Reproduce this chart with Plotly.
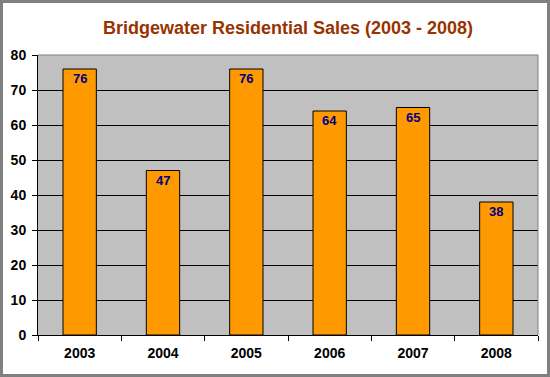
import plotly.graph_objects as go

years = ["2003", "2004", "2005", "2006", "2007", "2008"]
sales = [76, 47, 76, 64, 65, 38]
y_ticks = [0, 10, 20, 30, 40, 50, 60, 70, 80]

W, H = 550, 377
ml, mr, mt, mb = 38, 12, 55, 42
pw = W - ml - mr
ph = H - mt - mb

fig = go.Figure(go.Bar(
    x=years, y=sales,
    marker=dict(color="#FF9900", line=dict(color="black", width=1)),
    width=0.4,
    hoverinfo="x+y",
))

# category axis: annotation x given as category index
for i, v in enumerate(sales):
    fig.add_annotation(x=i, y=v, text=str(v), showarrow=False,
                       xref="x", yref="y", yanchor="top", yshift=0,
                       font=dict(family="Liberation Sans, Arial", size=13,
                                 color="#000080", weight="bold"))

fig.update_layout(
    width=W, height=H,
    margin=dict(l=ml, r=mr, t=mt, b=mb),
    paper_bgcolor="white", plot_bgcolor="#C0C0C0",
    showlegend=False,
    title=dict(text="Bridgewater Residential Sales (2003 - 2008)",
               x=0.5, xref="paper", y=1 - 28 / H, yanchor="middle",
               font=dict(family="Liberation Sans, Arial", size=18, color="#993300", weight="bold")),
    xaxis=dict(type="category", showline=True, linecolor="black", linewidth=1,
               ticks="outside", ticklen=5, tickcolor="black", tickson="boundaries",
               ticklabelstandoff=5,
               tickfont=dict(family="Liberation Sans, Arial", size=14, color="black", weight="bold"),
               showgrid=False, range=[-0.5, 5.5]),
    yaxis=dict(range=[0, 80], tickvals=y_ticks, showline=True, linecolor="black", linewidth=1,
               ticks="outside", ticklen=5, tickcolor="black", ticklabelstandoff=3,
               gridcolor="black", gridwidth=1, zeroline=False,
               tickfont=dict(family="Liberation Sans, Arial", size=14, color="black", weight="bold")),
    shapes=[
        dict(type="line", xref="paper", yref="paper", x0=0, x1=1, y0=1, y1=1,
             line=dict(color="#808080", width=1), layer="above"),
        dict(type="line", xref="paper", yref="paper", x0=1, x1=1, y0=0, y1=1,
             line=dict(color="#808080", width=1), layer="above"),
        dict(type="rect", xref="paper", yref="paper",
             x0=(1.5 - ml) / pw, x1=(W - 1.5 - ml) / pw,
             y0=-(H - 1.5 - mt - ph) / ph, y1=1 + (mt - 1.5) / ph,
             line=dict(color="#808080", width=3), layer="above"),
    ],
)

fig.write_html("out.html", config={"displayModeBar": False},
               post_script="document.body.style.margin='0';document.body.style.overflow='hidden';")
